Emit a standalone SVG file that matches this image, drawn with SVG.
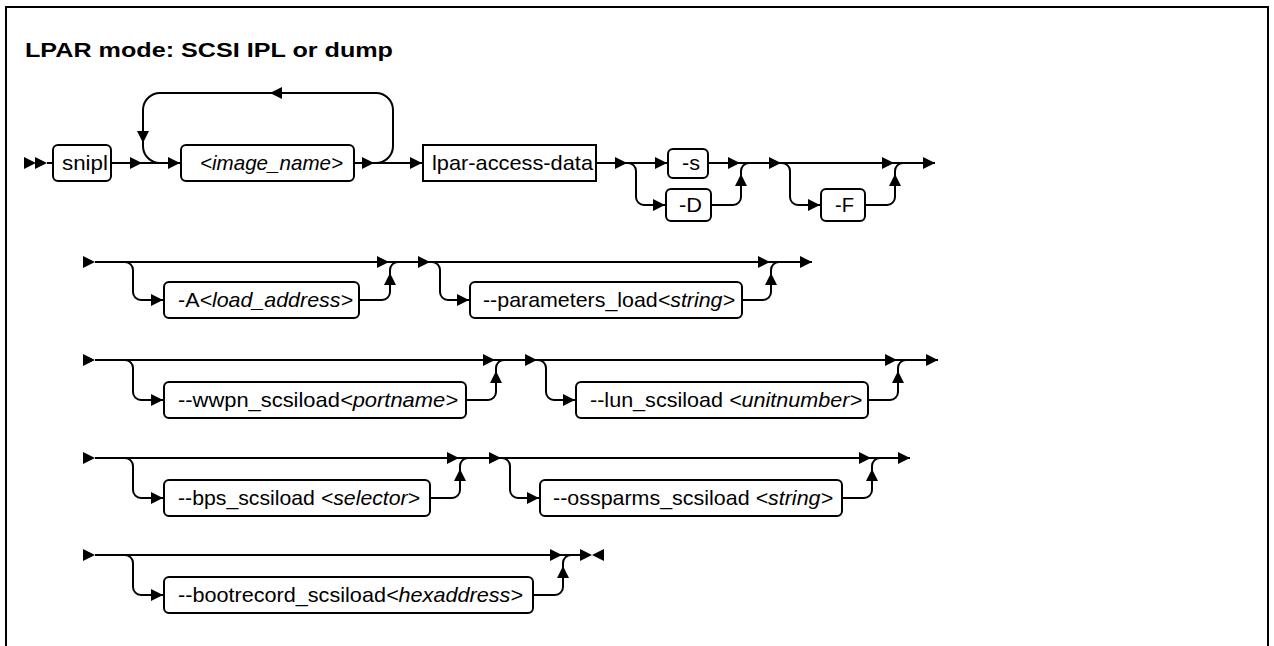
<svg xmlns="http://www.w3.org/2000/svg" xmlns:xlink="http://www.w3.org/1999/xlink" width="1274" height="646" viewBox="0 0 1274 646">
<style>
.ln{fill:none;stroke:#000;stroke-width:2}
.bx{fill:#fff;stroke:#000;stroke-width:2}
.t{font-family:"Liberation Sans",Arial,sans-serif;font-size:21px;fill:#000}
.i{font-style:italic}
.ttl{font-family:"Liberation Sans",Arial,sans-serif;font-size:21px;font-weight:bold;fill:#000}
</style>
<defs>
<path id="a" d="M0,0 L-12,-6 L-12,6 Z" fill="#000"/>
</defs>
<rect x="6" y="7" width="1262" height="660" fill="#fff" stroke="#000" stroke-width="2"/>
<text class="ttl" x="25" y="57" textLength="368" lengthAdjust="spacingAndGlyphs">LPAR mode: SCSI IPL or dump</text>

<g id="connectors">
<!-- row 1 -->
<path class="ln" d="M47,163 L53,163"/>
<path class="ln" d="M111,163 L181,163"/>
<path class="ln" d="M376,163 A17 17 0 0 0 393,146 L393,110 A17 17 0 0 0 376,93 L160,93 A17 17 0 0 0 143,110 L143,146 A17 17 0 0 0 160,163"/>
<path class="ln" d="M354,163 L423,163"/>
<path class="ln" d="M596,163 L668,163"/>
<path class="ln" d="M708,163 L935,163"/>
<path class="ln" d="M628,163 A8 8 0 0 1 636,171 L636,197 A8 8 0 0 0 644,205 L666,205"/>
<path class="ln" d="M711,205 L733,205 A8 8 0 0 0 741,197 L741,171 A8 8 0 0 1 749,163"/>
<path class="ln" d="M782,163 A8 8 0 0 1 790,171 L790,197 A8 8 0 0 0 798,205 L821,205"/>
<path class="ln" d="M865,205 L887,205 A8 8 0 0 0 895,197 L895,171 A8 8 0 0 1 903,163"/>
<use xlink:href="#a" transform="translate(36,163)"/>
<use xlink:href="#a" transform="translate(47,163)"/>
<use xlink:href="#a" transform="translate(142,163)"/>
<use xlink:href="#a" transform="translate(180,163)"/>
<use xlink:href="#a" transform="translate(143,143) rotate(90)"/>
<use xlink:href="#a" transform="translate(270,93) rotate(180)"/>
<use xlink:href="#a" transform="translate(374,163)"/>
<use xlink:href="#a" transform="translate(422,163)"/>
<use xlink:href="#a" transform="translate(627,163)"/>
<use xlink:href="#a" transform="translate(667,163)"/>
<use xlink:href="#a" transform="translate(665,205)"/>
<use xlink:href="#a" transform="translate(740,163)"/>
<use xlink:href="#a" transform="translate(741,174) rotate(-90)"/>
<use xlink:href="#a" transform="translate(781,163)"/>
<use xlink:href="#a" transform="translate(820,205)"/>
<use xlink:href="#a" transform="translate(894,163)"/>
<use xlink:href="#a" transform="translate(895,174) rotate(-90)"/>
<use xlink:href="#a" transform="translate(935,163)"/>

<!-- row 2 -->
<path class="ln" d="M95,262 L812,262"/>
<path class="ln" d="M125,262 A8 8 0 0 1 133,270 L133,292 A8 8 0 0 0 141,300 L164,300"/>
<path class="ln" d="M359,300 L382,300 A8 8 0 0 0 390,292 L390,270 A8 8 0 0 1 398,262"/>
<path class="ln" d="M432,262 A8 8 0 0 1 440,270 L440,292 A8 8 0 0 0 448,300 L470,300"/>
<path class="ln" d="M742,300 L763,300 A8 8 0 0 0 771,292 L771,270 A8 8 0 0 1 779,262"/>
<use xlink:href="#a" transform="translate(95,262)"/>
<use xlink:href="#a" transform="translate(163,300)"/>
<use xlink:href="#a" transform="translate(389,262)"/>
<use xlink:href="#a" transform="translate(390,273) rotate(-90)"/>
<use xlink:href="#a" transform="translate(430,262)"/>
<use xlink:href="#a" transform="translate(469,300)"/>
<use xlink:href="#a" transform="translate(770,262)"/>
<use xlink:href="#a" transform="translate(771,273) rotate(-90)"/>
<use xlink:href="#a" transform="translate(812,262)"/>

<!-- row 3 -->
<path class="ln" d="M95,360 L938,360"/>
<path class="ln" d="M125,360 A8 8 0 0 1 133,368 L133,392 A8 8 0 0 0 141,400 L164,400"/>
<path class="ln" d="M466,400 L488,400 A8 8 0 0 0 496,392 L496,368 A8 8 0 0 1 504,360"/>
<path class="ln" d="M538,360 A8 8 0 0 1 546,368 L546,392 A8 8 0 0 0 554,400 L576,400"/>
<path class="ln" d="M868,400 L890,400 A8 8 0 0 0 898,392 L898,368 A8 8 0 0 1 906,360"/>
<use xlink:href="#a" transform="translate(95,360)"/>
<use xlink:href="#a" transform="translate(163,400)"/>
<use xlink:href="#a" transform="translate(495,360)"/>
<use xlink:href="#a" transform="translate(496,371) rotate(-90)"/>
<use xlink:href="#a" transform="translate(537,360)"/>
<use xlink:href="#a" transform="translate(575,400)"/>
<use xlink:href="#a" transform="translate(897,360)"/>
<use xlink:href="#a" transform="translate(898,371) rotate(-90)"/>
<use xlink:href="#a" transform="translate(938,360)"/>

<!-- row 4 -->
<path class="ln" d="M95,458 L910,458"/>
<path class="ln" d="M125,458 A8 8 0 0 1 133,466 L133,490 A8 8 0 0 0 141,498 L164,498"/>
<path class="ln" d="M430,498 L452,498 A8 8 0 0 0 460,490 L460,466 A8 8 0 0 1 468,458"/>
<path class="ln" d="M502,458 A8 8 0 0 1 510,466 L510,490 A8 8 0 0 0 518,498 L540,498"/>
<path class="ln" d="M842,498 L864,498 A8 8 0 0 0 872,490 L872,466 A8 8 0 0 1 880,458"/>
<use xlink:href="#a" transform="translate(95,458)"/>
<use xlink:href="#a" transform="translate(163,498)"/>
<use xlink:href="#a" transform="translate(459,458)"/>
<use xlink:href="#a" transform="translate(460,469) rotate(-90)"/>
<use xlink:href="#a" transform="translate(501,458)"/>
<use xlink:href="#a" transform="translate(539,498)"/>
<use xlink:href="#a" transform="translate(871,458)"/>
<use xlink:href="#a" transform="translate(872,469) rotate(-90)"/>
<use xlink:href="#a" transform="translate(910,458)"/>

<!-- row 5 -->
<path class="ln" d="M95,555 L581,555"/>
<path class="ln" d="M125,555 A8 8 0 0 1 133,563 L133,587 A8 8 0 0 0 141,595 L164,595"/>
<path class="ln" d="M533,595 L555,595 A8 8 0 0 0 563,587 L563,563 A8 8 0 0 1 571,555"/>
<use xlink:href="#a" transform="translate(95,555)"/>
<use xlink:href="#a" transform="translate(163,595)"/>
<use xlink:href="#a" transform="translate(562,555)"/>
<use xlink:href="#a" transform="translate(563,566) rotate(-90)"/>
<use xlink:href="#a" transform="translate(592,555)"/>
<use xlink:href="#a" transform="translate(592,555) rotate(180)"/>
</g>

<g id="snipl"><rect class="bx" x="53" y="145" width="58" height="36" rx="5"/><text class="t" x="62" y="170" textLength="46" lengthAdjust="spacingAndGlyphs">snipl</text></g>
<g id="image_name"><rect class="bx" x="181" y="145" width="173" height="36" rx="5"/><text class="t i" x="200" y="170" textLength="143" lengthAdjust="spacingAndGlyphs">&lt;image_name&gt;</text></g>
<g id="lpar_access_data"><rect class="bx" x="423" y="145" width="173" height="36"/><text class="t" x="432" y="170" textLength="161" lengthAdjust="spacingAndGlyphs">lpar-access-data</text></g>
<g id="opt_s"><rect class="bx" x="668" y="149" width="40" height="29" rx="5"/><text class="t" x="682" y="170" textLength="18" lengthAdjust="spacingAndGlyphs">-s</text></g>
<g id="opt_D"><rect class="bx" x="666" y="189" width="45" height="32" rx="5"/><text class="t" x="679" y="212" textLength="23" lengthAdjust="spacingAndGlyphs">-D</text></g>
<g id="opt_F"><rect class="bx" x="821" y="189" width="44" height="32" rx="5"/><text class="t" x="835" y="212" textLength="19" lengthAdjust="spacingAndGlyphs">-F</text></g>

<g id="opt_A"><rect class="bx" x="164" y="282" width="195" height="36" rx="5"/><text class="t" x="178" y="307" textLength="175" lengthAdjust="spacingAndGlyphs">-A<tspan class="i">&lt;load_address&gt;</tspan></text></g>
<g id="opt_parameters_load"><rect class="bx" x="470" y="282" width="272" height="36" rx="5"/><text class="t" x="483" y="307" textLength="252" lengthAdjust="spacingAndGlyphs">--parameters_load<tspan class="i">&lt;string&gt;</tspan></text></g>

<g id="opt_wwpn"><rect class="bx" x="164" y="382" width="302" height="36" rx="5"/><text class="t" x="178" y="407" textLength="280" lengthAdjust="spacingAndGlyphs">--wwpn_scsiload<tspan class="i">&lt;portname&gt;</tspan></text></g>
<g id="opt_lun"><rect class="bx" x="576" y="382" width="292" height="36" rx="5"/><text class="t" x="590" y="407" textLength="272" lengthAdjust="spacingAndGlyphs">--lun_scsiload <tspan class="i">&lt;unitnumber&gt;</tspan></text></g>

<g id="opt_bps"><rect class="bx" x="164" y="480" width="266" height="36" rx="5"/><text class="t" x="178" y="505" textLength="242" lengthAdjust="spacingAndGlyphs">--bps_scsiload <tspan class="i">&lt;selector&gt;</tspan></text></g>
<g id="opt_ossparms"><rect class="bx" x="540" y="480" width="302" height="36" rx="5"/><text class="t" x="553" y="505" textLength="280" lengthAdjust="spacingAndGlyphs">--ossparms_scsiload <tspan class="i">&lt;string&gt;</tspan></text></g>

<g id="opt_bootrecord"><rect class="bx" x="164" y="577" width="369" height="36" rx="5"/><text class="t" x="178" y="602" textLength="345" lengthAdjust="spacingAndGlyphs">--bootrecord_scsiload<tspan class="i">&lt;hexaddress&gt;</tspan></text></g>
</svg>
